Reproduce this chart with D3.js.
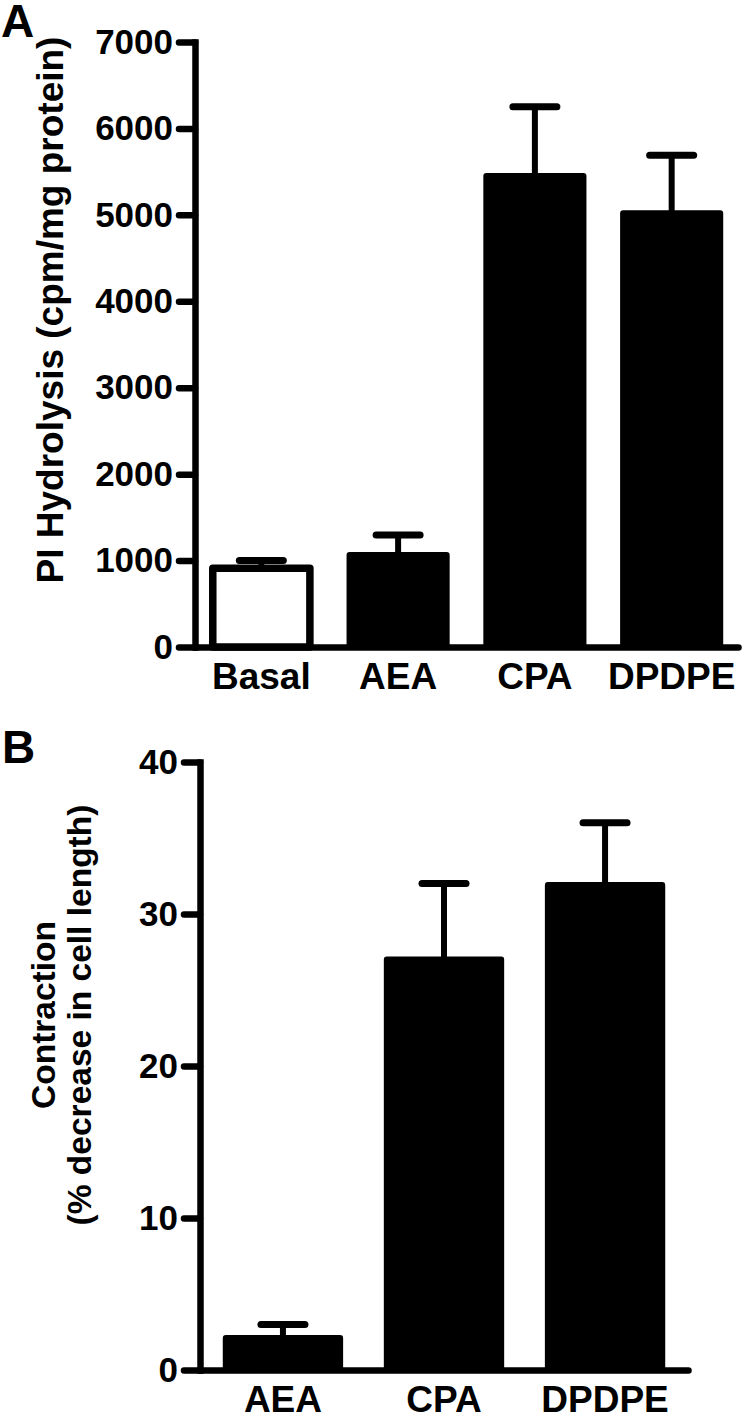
<!DOCTYPE html>
<html>
<head>
<meta charset="utf-8">
<script src="https://cdn.jsdelivr.net/npm/d3@7"></script>
<style>
  body { margin: 0; background: #fff; }
  svg text { font-family: "Liberation Sans", Arial, sans-serif; font-weight: bold; fill: #000; }
</style>
</head>
<body>
<svg id="fig" width="744" height="1419"></svg>
<script>
// panel A: PI hydrolysis
var catsA = ["Basal", "AEA", "CPA", "DPDPE"];
var meanA = [910, 1065, 5450, 5020];
var semA  = [90, 230, 800, 670];
var fillA = ["#fff", "#000", "#000", "#000"];
var ticksA = [0, 1000, 2000, 3000, 4000, 5000, 6000, 7000];

// panel B: contraction
var catsB = ["AEA", "CPA", "DPDPE"];
var meanB = [2.1, 27, 31.9];
var semB  = [0.9, 5, 4.1];
var ticksB = [0, 10, 20, 30, 40];

var svg = d3.select("#fig");
var lw = 6.5;

function panel(opt) {
    var g = svg.append("g");

    var x = d3.scaleBand().domain(opt.cats).range(opt.xr)
        .paddingInner(0.29).paddingOuter(opt.po);
    var y = d3.scaleLinear().domain(opt.yd).range(opt.yr);

    var data = opt.cats.map(function (c, i) {
        return {cat: c, val: opt.mean[i], err: opt.sem[i], fill: opt.fill ? opt.fill[i] : "#000"};
    });

    // error bars (drawn first so bar covers the stem)
    var eb = g.append("g");
    eb.selectAll("line.stem").data(data).enter().append("line")
        .attr("x1", d => x(d.cat) + x.bandwidth() / 2)
        .attr("x2", d => x(d.cat) + x.bandwidth() / 2)
        .attr("y1", d => y(d.val))
        .attr("y2", d => y(d.val + d.err))
        .attr("stroke", "#000").attr("stroke-width", 6);
    eb.selectAll("line.cap").data(data).enter().append("line")
        .attr("x1", d => x(d.cat) + x.bandwidth() / 2 - 22)
        .attr("x2", d => x(d.cat) + x.bandwidth() / 2 + 22)
        .attr("y1", d => y(d.val + d.err))
        .attr("y2", d => y(d.val + d.err))
        .attr("stroke", "#000").attr("stroke-width", 7)
        .attr("stroke-linecap", "round");

    // bars
    g.append("g").selectAll("rect").data(data).enter().append("rect")
        .attr("x", d => x(d.cat))
        .attr("width", x.bandwidth())
        .attr("y", d => y(d.val))
        .attr("height", d => y(0) - y(d.val))
        .attr("fill", d => d.fill)
        .attr("stroke", "#000")
        .attr("stroke-width", d => d.fill === "#000" ? 6 : 7.5)
        .attr("stroke-linejoin", "round");

    // y axis
    var ya = g.append("g")
        .attr("transform", "translate(" + opt.xr[0] + ",0)")
        .call(d3.axisLeft(y).tickValues(opt.ticks).tickFormat(d3.format("d"))
            .tickSize(16).tickSizeOuter(0).tickPadding(6));
    ya.attr("font-family", null);
    ya.select(".domain").attr("stroke-width", lw).attr("stroke-linecap", "square");
    ya.selectAll(".tick line").attr("stroke-width", lw).attr("stroke-linecap", "round");
    ya.selectAll(".tick text").style("font-size", "35px");

    // x axis
    var xa = g.append("g")
        .attr("transform", "translate(0," + y(0) + ")")
        .call(d3.axisBottom(x).tickSize(0).tickSizeOuter(0).tickPadding(opt.xpad));
    xa.attr("font-family", null);
    xa.select(".domain").attr("stroke-width", lw).attr("stroke-linecap", "round");
    xa.selectAll(".tick text").style("font-size", "37px");

    // y title
    var t = g.append("text")
        .attr("transform", "translate(" + opt.tx + "," + opt.ty + ") rotate(-90)")
        .attr("text-anchor", "middle")
        .style("font-size", opt.tfs + "px");
    opt.title.forEach(function (s, i) {
        t.append("tspan").attr("x", 0).attr("dy", i === 0 ? 0 : opt.tlh).text(s);
    });

    // panel letter
    g.append("text").attr("x", opt.lx).attr("y", opt.ly)
        .style("font-size", "46px").text(opt.letter);
}

panel({
    cats: catsA, mean: meanA, sem: semA, fill: fillA, ticks: ticksA,
    xr: [195, 738], yd: [0, 7000], yr: [647, 42], po: 0.13, xpad: 16,
    title: ["PI Hydrolysis (cpm/mg protein)"], tx: 63, ty: 310, tfs: 37, tlh: 0,
    letter: "A", lx: 1, ly: 37
});

panel({
    cats: catsB, mean: meanB, sem: semB, ticks: ticksB,
    xr: [200, 688], yd: [0, 40], yr: [1370, 762], po: 0.16, xpad: 16,
    title: ["Contraction", "(% decrease in cell length)"], tx: 55, ty: 1015, tfs: 33.5, tlh: 36,
    letter: "B", lx: 2, ly: 763
});
</script>
</body>
</html>
